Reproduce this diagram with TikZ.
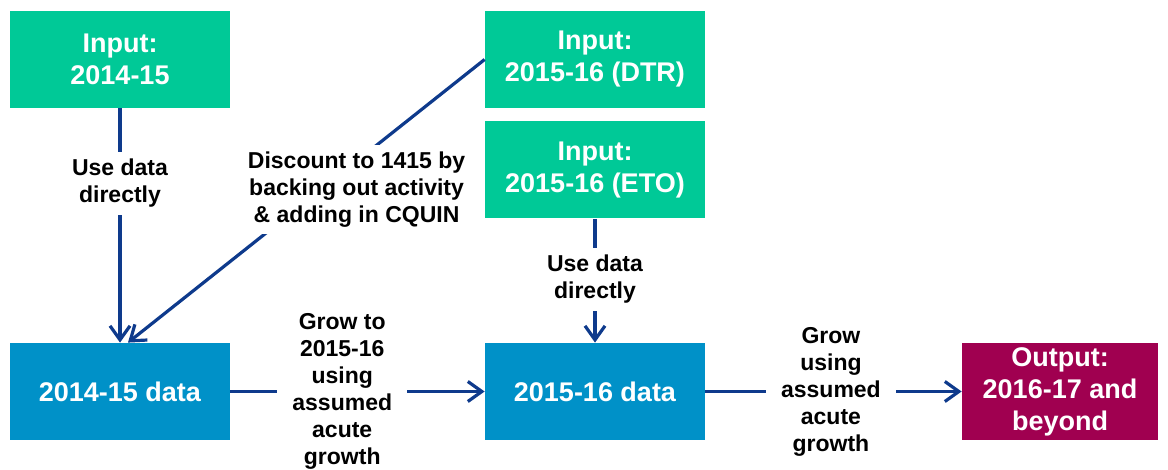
\documentclass[tikz,border=0pt]{standalone}
\usepackage{fontspec}
\setmainfont{Liberation Sans}
\usetikzlibrary{arrows.meta}
\definecolor{inputgreen}{RGB}{0,201,151}
\definecolor{datablue}{RGB}{0,145,200}
\definecolor{outputred}{RGB}{160,0,80}
\definecolor{flowblue}{RGB}{14,58,140}

\begin{document}
\begin{tikzpicture}[x=0.5pt, y=-0.5pt,
  box/.style={minimum width=110pt, minimum height=48.5pt, inner sep=0pt, align=center,
    text=white, font=\bfseries\fontsize{13.5}{16}\selectfont},
  inbox/.style={box, fill=inputgreen},
  databox/.style={box, fill=datablue},
  outbox/.style={box, fill=outputred, minimum width=98pt},
  lbl/.style={fill=white, text=black, align=center, inner sep=3.5pt,
    font=\bfseries\fontsize{11.5}{13.5}\selectfont},
  growlbl/.style={lbl, inner xsep=7.5pt},
  flow/.style={flowblue, line width=1.6pt, -{Straight Barb[length=7pt, width=10pt]}}]
  \useasboundingbox (0,0) rectangle (1168,470);
  % input boxes on top, data boxes in the bottom row
  \node[inbox] (in1415) at (120,59.5) {Input:\\2014-15};
  \node[inbox] (inDTR) at (595,59.5) {Input:\\2015-16 (DTR)};
  \node[inbox] (inETO) at (595,170) {Input:\\2015-16 (ETO)};
  \node[databox] (d1415) at (120,391.5) {2014-15 data};
  \node[databox] (d1516) at (595,391.5) {2015-16 data};
  \node[outbox] (out) at (1060,391.5) {Output:\\2016-17 and\\beyond};

  \draw[flow] (in1415) -- (d1415) node[lbl, pos=0.32] {Use data\\directly};
  \draw[flow] (inDTR.west) -- ([xshift=4pt]d1415.north)
    node[lbl, pos=0.46, xshift=18pt] {Discount to 1415 by\\backing out activity\\\& adding in CQUIN};
  \draw[flow] (inETO) -- (d1516) node[lbl, pos=0.49] {Use data\\directly};
  \draw[flow] (d1415) -- (d1516)
    node[growlbl, pos=0.44] {Grow to\\2015-16\\using\\assumed\\acute\\growth};
  \draw[flow] (d1516) -- (out)
    node[growlbl, pos=0.49] {Grow\\using\\assumed\\acute\\growth};
\end{tikzpicture}
\end{document}
